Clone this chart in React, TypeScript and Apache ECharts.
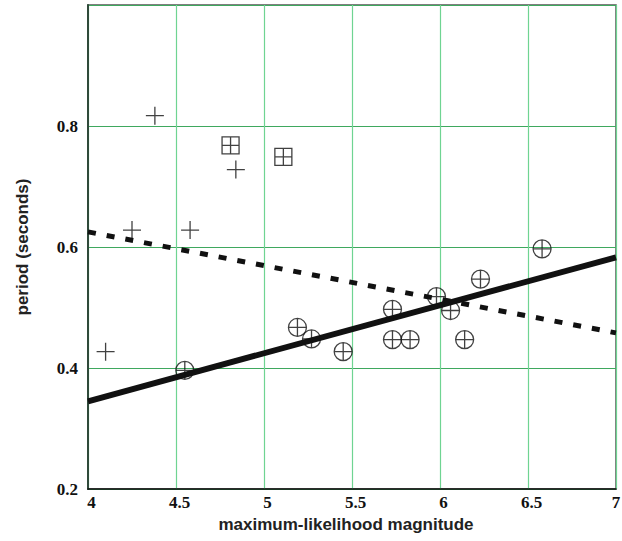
import React, { useEffect, useRef } from "react";
import * as echarts from "echarts";

// Tick values
const xTicks = [4, 4.5, 5, 5.5, 6, 6.5, 7];
const yTicks = [0.2, 0.4, 0.6, 0.8, 1.0];

// "+" markers (magnitude, period)
const plusX = [4.38, 4.84, 4.25, 4.58, 4.1];
const plusY = [0.817, 0.728, 0.628, 0.628, 0.427];

// boxed "+" markers
const boxX = [4.81, 5.11];
const boxY = [0.768, 0.749];

// circled "+" markers
const circleX = [4.55, 5.19, 5.27, 5.45, 5.73, 5.73, 5.83, 5.98, 6.06, 6.14, 6.23, 6.58];
const circleY = [0.396, 0.467, 0.448, 0.427, 0.497, 0.447, 0.447, 0.518, 0.495, 0.447, 0.547, 0.597];

// fitted lines
const solidFitX = [4, 7];
const solidFitY = [0.345, 0.583];
const dashedFitX = [4, 7];
const dashedFitY = [0.625, 0.458];

const zip = (a: number[], b: number[]) => a.map((v, i) => [v, b[i]]);

const PLUS = "path://M-10,0 L10,0 M0,-10 L0,10";
const BOX = "path://M-10,-10 L10,-10 L10,10 L-10,10 Z M-10,0 L10,0 M0,-10 L0,10";
const CIRC = "path://M0,-10 A10,10 0 1,1 0,10 A10,10 0 1,1 0,-10 Z M-10,0 L10,0 M0,-10 L0,10";

const markerStyle = { color: "rgba(0,0,0,0)", borderColor: "#111", borderWidth: 1.3 };

const tickFont = {
  fontFamily: "Liberation Serif",
  fontWeight: "bold" as const,
  fontSize: 17,
  color: "#111",
};

export default function App() {
  const ref = useRef<HTMLDivElement>(null);
  useEffect(() => {
    if (!ref.current) return;
    const chart = echarts.init(ref.current, null, { renderer: "svg" });
    chart.setOption({
      animation: false,
      backgroundColor: "#fff",
      grid: {
        left: 88,
        right: 6,
        top: 5,
        bottom: 52,
        outerBoundsMode: "none",
        containLabel: false,
        show: true,
        borderColor: "#555",
        borderWidth: 1.5,
      },
      xAxis: {
        type: "value",
        min: xTicks[0],
        max: xTicks[xTicks.length - 1],
        interval: 0.5,
        axisLine: { show: true, lineStyle: { color: "#111", width: 1.5 } },
        axisTick: { show: false },
        splitLine: { show: true, lineStyle: { color: "#6fd492", width: 1.2 } },
        axisLabel: {
          ...tickFont,
          margin: 5,
          formatter: (v: number) =>
            v === xTicks[xTicks.length - 1] ? `{e|${v}}` : `{n|${v}}`,
          rich: {
            n: { ...tickFont, padding: [0, 0, 0, 7] },
            e: { ...tickFont, padding: [0, 0, 0, 0] },
          },
        },
        name: "maximum-likelihood magnitude",
        nameLocation: "middle",
        nameGap: 27,
        nameTextStyle: {
          fontFamily: "Liberation Sans",
          fontWeight: "bold",
          fontSize: 17,
          color: "#222",
          padding: [0, 12, 0, 0],
        },
      },
      yAxis: {
        type: "value",
        min: yTicks[0],
        max: yTicks[yTicks.length - 1],
        interval: 0.2,
        axisLine: { show: true, lineStyle: { color: "#2f4a3a", width: 2 } },
        axisTick: { show: false },
        splitLine: { show: true, lineStyle: { color: "#3fa85e", width: 1 } },
        axisLabel: {
          ...tickFont,
          margin: 10,
          padding: [6, 0, 0, 0],
          formatter: (v: number) => (v > 0.95 ? "" : v.toFixed(1)),
        },
        name: "period (seconds)",
        nameLocation: "middle",
        nameGap: 57,
        nameTextStyle: { fontFamily: "Liberation Sans", fontWeight: "bold", fontSize: 17, color: "#222" },
      },
      series: [
        {
          type: "line",
          data: zip(solidFitX, solidFitY),
          symbol: "none",
          lineStyle: { color: "#111", width: 6 },
          z: 2,
        },
        {
          type: "line",
          data: zip(dashedFitX, dashedFitY),
          symbol: "none",
          lineStyle: { color: "#111", width: 5, type: [8, 11] },
          z: 2,
        },
        {
          type: "scatter",
          data: zip(plusX, plusY),
          symbol: PLUS,
          symbolSize: 18,
          itemStyle: markerStyle,
          z: 3,
        },
        {
          type: "scatter",
          data: zip(boxX, boxY),
          symbol: BOX,
          symbolSize: 17,
          itemStyle: markerStyle,
          z: 3,
        },
        {
          type: "scatter",
          data: zip(circleX, circleY),
          symbol: CIRC,
          symbolSize: 18,
          itemStyle: markerStyle,
          z: 3,
        },
      ],
    });
    return () => chart.dispose();
  }, []);
  return <div ref={ref} style={{ width: 622, height: 541, position: "absolute", left: 0, top: 0 }} />;
}
